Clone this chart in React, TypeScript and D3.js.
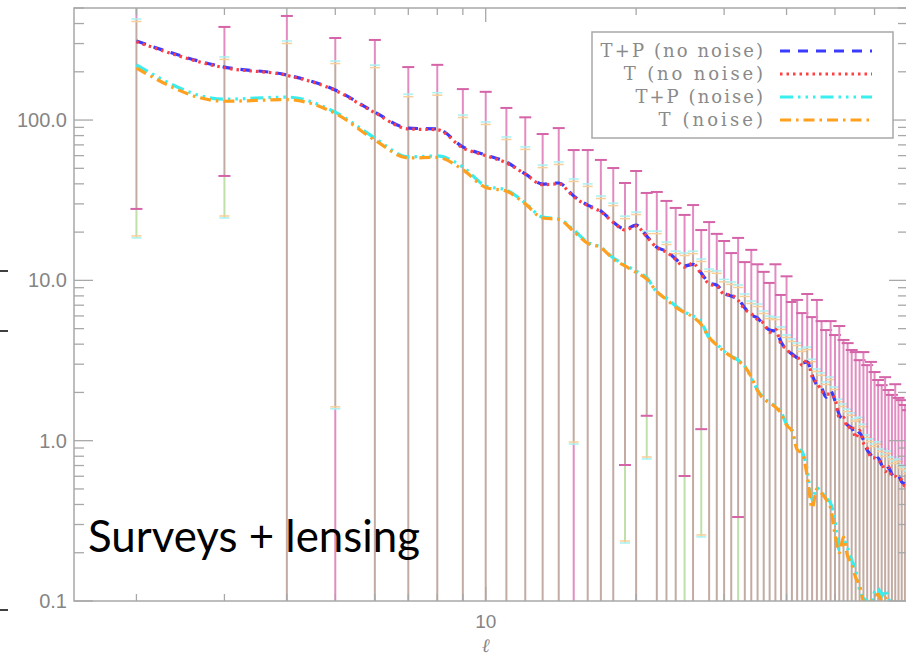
import React from 'react';
import * as d3 from 'd3';

// multipole values
const ells = [2, 3, 4, 5, 6, 7, 8, 9, 10,
  11, 12, 13, 14, 15, 16, 17, 18, 19, 20,
  21, 22, 23, 24, 25, 26, 27, 28, 29, 30,
  31, 32, 33, 34, 35, 36, 37, 38, 39, 40,
  41, 42, 43, 44, 45, 46, 47, 48, 49, 50,
  51, 52, 53, 54, 55, 56, 57, 58, 59, 60,
  61, 62, 63, 64, 65, 66, 67, 68, 69, 70];

const tpNoNoise = [311, 214, 191, 154, 112, 89, 88, 68, 60.5,
  54.7, 46.1, 39.9, 40.5, 33.6, 29.5, 27.1, 23.1, 20.9, 22.1,
  18.9, 16.1, 15.2, 13.6, 12.3, 12.6, 11.1, 9.64, 9.35, 8.34,
  7.98, 7.66, 6.73, 6.08, 5.82, 5.27, 4.9, 4.83, 4.13, 3.68,
  3.48, 3.28, 3.05, 3.1, 2.57, 2.22, 2.13, 1.87, 2.04, 1.77,
  1.45, 1.35, 1.25, 1.2, 1.08, 1.12, 1.01, 0.875, 0.815, 0.757,
  0.78, 0.705, 0.656, 0.675, 0.619, 0.585, 0.602, 0.552, 0.537, 0.507];

const tNoNoise = [308, 212, 190, 153, 111, 88, 87, 67, 60,
  54, 46, 39.5, 40, 33.2, 29.2, 26.8, 23, 20.6, 21.8,
  18.7, 16, 15, 13.5, 12.1, 12.8, 10.9, 9.5, 9.2, 8.2,
  8.1, 7.5, 6.6, 6.2, 5.7, 5.4, 4.75, 4.95, 4.0, 3.75,
  3.4, 3.35, 2.95, 3.2, 2.5, 2.3, 2.05, 1.95, 1.95, 1.82,
  1.4, 1.4, 1.2, 1.25, 1.04, 1.16, 0.97, 0.9, 0.79, 0.78,
  0.75, 0.73, 0.64, 0.69, 0.6, 0.6, 0.58, 0.57, 0.52, 0.52];

const tpNoise = [221, 135, 139, 112, 77.3, 58.9, 59.7, 50.9, 38.8,
  36.6, 30.4, 24.8, 24.2, 20.6, 17.3, 16.1, 13.8, 12.5, 11.4,
  10.4, 8.45, 7.76, 6.92, 6.35, 6.0, 5.5, 4.37, 4.01, 3.62,
  3.37, 3.18, 2.92, 2.46, 2.07, 1.85, 1.74, 1.64, 1.51, 1.27,
  1.17, 0.9, 0.85, 0.656, 0.427, 0.507, 0.479, 0.439, 0.408, 0.32,
  0.208, 0.24, 0.214, 0.18, 0.156, 0.117, 0.104, 0.1, 0.09, 0.114,
  0.12, 0.107, 0.117, 0.104, 0.09, 0.085, 0.097, 0.085, 0.09, 0.085];

const tNoise = [211, 131, 134, 110, 75, 58, 58.5, 49, 38,
  36, 30, 24.5, 24, 20.2, 17, 16, 13.6, 12.3, 11.2,
  10.2, 8.5, 7.6, 6.8, 6.3, 5.9, 5.3, 4.4, 3.95, 3.6,
  3.35, 3.15, 2.9, 2.5, 2.05, 1.82, 1.72, 1.62, 1.48, 1.25,
  1.15, 0.88, 0.83, 0.6, 0.38, 0.5, 0.47, 0.43, 0.38, 0.26,
  0.2, 0.25, 0.19, 0.17, 0.14, 0.125, 0.1, 0.095, 0.1, 0.108,
  0.11, 0.1, 0.105, 0.095, 0.1, 0.09, 0.1, 0.095, 0.088, 0.09];

// error bar bounds
const noNoiseUpper = [700, 381, 446, 325, 316, 214, 221, 156, 150,
  119, 104, 81.8, 89.1, 65, 65, 56.4, 50.2, 40.5, 48.1,
  35.1, 35.6, 31.3, 28.3, 25.6, 29.5, 20.6, 23.1, 19.5, 17.6,
  14.8, 18.4, 13, 15.5, 12.6, 11.3, 9.64, 12.6, 8.11, 10.6,
  7.33, 7.55, 6.25, 8.22, 5.9, 7.55, 5.57, 4.9, 5.57, 4.56,
  5.19, 4.25, 4.06, 3.68, 3.57, 3.18, 3.57, 2.96, 3.1, 2.68,
  2.39, 2.22, 2.49, 2.07, 1.93, 2.25, 1.85, 1.79, 1.67, 1.55];

const noiseUpper = [421, 244, 307, 230, 217, 143, 146, 106, 95.9,
  77.3, 67, 51.6, 54, 42.3, 39.4, 33.1, 29.9, 24.8, 26.3,
  20, 20, 17.1, 15, 14.6, 15, 13.4, 11.6, 11.3, 10,
  9.64, 9.23, 8.11, 7.33, 7.02, 6.35, 5.9, 5.82, 5.05, 4.5,
  4.25, 4.01, 3.68, 3.78, 3.18, 2.76, 2.61, 2.29, 2.46, 2.13,
  1.79, 1.67, 1.55, 1.47, 1.35, 1.38, 1.25, 1.07, 1.01, 0.94,
  0.97, 0.875, 0.815, 0.85, 0.78, 0.736, 0.757, 0.695, 0.675, 0.638];

const noNoiseLower = [27.9, 44.8, 0.01, 0.01, 0.01, 0.01, 0.01, 0.01, 0.01,
  0.01, 0.01, 0.01, 0.01, 0.01, 0.01, 0.01, 0.01, 0.705, 0.01,
  1.43, 0.01, 0.01, 0.01, 0.602, 0.01, 1.18, 0.01, 0.01, 0.01,
  0.01, 0.334, 0.01, 0.01, 0.01, 0.01, 0.01, 0.01, 0.01, 0.01,
  0.01, 0.01, 0.01, 0.01, 0.01, 0.01, 0.01, 0.01, 0.01, 0.01,
  0.01, 0.01, 0.01, 0.01, 0.01, 0.01, 0.01, 0.01, 0.01, 0.01,
  0.01, 0.01, 0.01, 0.01, 0.01, 0.01, 0.01, 0.01, 0.01, 0.01];

const noiseLower = [18.4, 24.5, 0.01, 1.58, 0.01, 0.01, 0.01, 0.01, 0.01,
  0.01, 0.01, 0.01, 0.01, 0.953, 0.01, 0.01, 0.01, 0.23, 0.01,
  0.769, 0.01, 0.01, 0.01, 0.01, 0.01, 0.251, 0.01, 0.01, 0.01,
  0.01, 0.01, 0.01, 0.01, 0.01, 0.01, 0.01, 0.01, 0.01, 0.01,
  0.01, 0.01, 0.01, 0.01, 0.01, 0.01, 0.01, 0.01, 0.01, 0.01,
  0.01, 0.01, 0.01, 0.01, 0.01, 0.01, 0.01, 0.01, 0.01, 0.01,
  0.01, 0.01, 0.01, 0.01, 0.01, 0.01, 0.01, 0.01, 0.01, 0.01];

const yTickValues = [0.1, 1, 10, 100];
const yTickLabels = ['0.1', '1.0', '10.0', '100.0'];
const xTickValues = [10];
const xTickLabels = ['10'];

const legendLabels = ['T+P (no noise)', 'T (no noise)', 'T+P (noise)', 'T (noise)'];
const seriesColors = ['#3b3bff', '#ff4040', '#38eeee', '#ffa01e'];
const seriesDash = ['10,8', '2.5,4', '13,5,2.5,5,2.5,5,2.5,5', '11,5,2.5,5'];

const AXIS = '#a8a8a8';
const PINK = '#e28cc2';
const PINK_CAP = '#d463a8';
const BROWN = '#c2aba2';
const GREEN = '#bfe0a8';
const LEGEND_CHAR = 11.6; // px per character of the plot's vector font

export default function App() {
  const left = 74, right = 908, top = 8, bottom = 601;
  const x = d3.scaleLog().domain([1.5, 70]).range([left, right]);
  const y = d3.scaleLog().domain([0.1, 500]).range([bottom, top]);

  const yTicks = y.ticks();
  const xTicks = x.ticks();
  const isDecade = (v: number) => Math.abs(Math.log10(v) - Math.round(Math.log10(v))) < 1e-6;

  const line = d3.line<number>()
    .x((_, i) => x(ells[i]))
    .y(d => y(d))
    .curve(d3.curveMonotoneX);

  const series = [tpNoNoise, tNoNoise, tpNoise, tNoise];
  const drawOrder = [2, 3, 0, 1];

  return (
    <svg width={906} height={656} style={{ position: 'absolute', left: 0, top: 0, background: '#fff' }}>
      <defs>
        <clipPath id="plot">
          <rect x={left} y={top} width={right - left} height={bottom - top} />
        </clipPath>
      </defs>

      {/* error bars */}
      <g clipPath="url(#plot)">
        {ells.map((l, i) => {
          const cx = x(l);
          const pu = y(noNoiseUpper[i]);
          const nu = y(noiseUpper[i]);
          const pl = y(noNoiseLower[i]);
          const nl = y(noiseLower[i]);
          const overlapLow = Math.min(pl, nl);
          return (
            <g key={l}>
              <line x1={cx} x2={cx} y1={pu} y2={nu} stroke={PINK} strokeWidth={2} />
              <line x1={cx} x2={cx} y1={nu} y2={overlapLow} stroke={BROWN} strokeWidth={2} />
              {pl > nl
                ? <line x1={cx} x2={cx} y1={nl} y2={pl} stroke={PINK} strokeWidth={2} />
                : <line x1={cx} x2={cx} y1={pl} y2={nl} stroke={GREEN} strokeWidth={2} />}
              <line x1={cx - 6} x2={cx + 6} y1={pu} y2={pu} stroke={PINK_CAP} strokeWidth={2} />
              <line x1={cx - 5} x2={cx + 5} y1={nu - 1} y2={nu - 1} stroke="#a8f2f2" strokeWidth={1.5} />
              <line x1={cx - 5} x2={cx + 5} y1={nu + 1.5} y2={nu + 1.5} stroke="#f8cf98" strokeWidth={1.5} />
              {pl < bottom && <line x1={cx - 6} x2={cx + 6} y1={pl} y2={pl} stroke={PINK_CAP} strokeWidth={2} />}
              {nl < bottom && <line x1={cx - 5} x2={cx + 5} y1={nl} y2={nl} stroke="#a8f2f2" strokeWidth={1.5} />}
              {nl < bottom && <line x1={cx - 5} x2={cx + 5} y1={nl - 2} y2={nl - 2} stroke="#f8cf98" strokeWidth={1.5} />}
            </g>
          );
        })}
      </g>

      {/* series */}
      <g clipPath="url(#plot)">
        {drawOrder.map(s => (
          <path key={s} d={line(series[s]) || ''} fill="none" stroke={seriesColors[s]}
            strokeWidth={3.2} strokeDasharray={seriesDash[s]} />
        ))}
      </g>

      {/* axes box */}
      <rect x={left} y={top} width={right - left} height={bottom - top} fill="none" stroke={AXIS} strokeWidth={1.5} />
      {yTicks.map((t, i) => {
        const major = isDecade(t);
        const len = major ? 19 : 10;
        return (
          <g key={'y' + i}>
            <line x1={left} x2={left + len} y1={y(t)} y2={y(t)} stroke={AXIS} strokeWidth={1.3} />
            <line x1={right - len} x2={right} y1={y(t)} y2={y(t)} stroke={AXIS} strokeWidth={1.3} />
          </g>
        );
      })}
      {xTicks.map((t, i) => {
        const major = isDecade(t);
        const len = major ? 14 : 7;
        return (
          <g key={'x' + i}>
            <line x1={x(t)} x2={x(t)} y1={top} y2={top + len} stroke={AXIS} strokeWidth={1.3} />
            <line x1={x(t)} x2={x(t)} y1={bottom - len} y2={bottom} stroke={AXIS} strokeWidth={1.3} />
          </g>
        );
      })}
      {yTickValues.map((v, i) => (
        <text key={'yl' + i} x={67} y={y(v) + 7} textAnchor="end" fontFamily="Liberation Sans, Arial, sans-serif"
          fontSize={20} fill="#858585">{yTickLabels[i]}</text>
      ))}
      {xTickValues.map((v, i) => (
        <text key={'xl' + i} x={x(v)} y={628} textAnchor="middle" fontFamily="Liberation Sans, Arial, sans-serif"
          fontSize={19} fill="#858585">{xTickLabels[i]}</text>
      ))}
      <text x={x(10)} y={652} textAnchor="middle" fontFamily="DejaVu Serif, serif" fontStyle="italic"
        fontSize={19} fill="#858585">ℓ</text>

      {/* legend */}
      <rect x={592} y={32} width={301} height={106} fill="#fff" stroke={AXIS} strokeWidth={1.5} />
      {legendLabels.map((lab, i) => {
        const ry = 51 + i * 23;
        const w = lab.length * LEGEND_CHAR;
        return (
          <g key={lab}>
            <text x={763 - w} y={ry + 6} fontFamily="DejaVu Serif, serif"
              fontSize={18} fill="#8a8a8a" textLength={w} lengthAdjust="spacing">{lab}</text>
            <line x1={780} x2={872} y1={ry} y2={ry} stroke={seriesColors[i]} strokeWidth={3.2}
              strokeDasharray={seriesDash[i]} />
          </g>
        );
      })}

      {/* slide annotation */}
      <text x={88} y={552} fontFamily="Lato, Open Sans, sans-serif" fontSize={44} fill="#000"
        textLength={332} lengthAdjust="spacingAndGlyphs">Surveys + lensing</text>

      {/* slide edge marks */}
      <line x1={0} x2={8} y1={271} y2={271} stroke="#000" strokeWidth={1.5} />
      <line x1={0} x2={8} y1={331} y2={331} stroke="#000" strokeWidth={1.5} />
      <line x1={0} x2={8} y1={610} y2={610} stroke="#000" strokeWidth={1.5} />
    </svg>
  );
}
